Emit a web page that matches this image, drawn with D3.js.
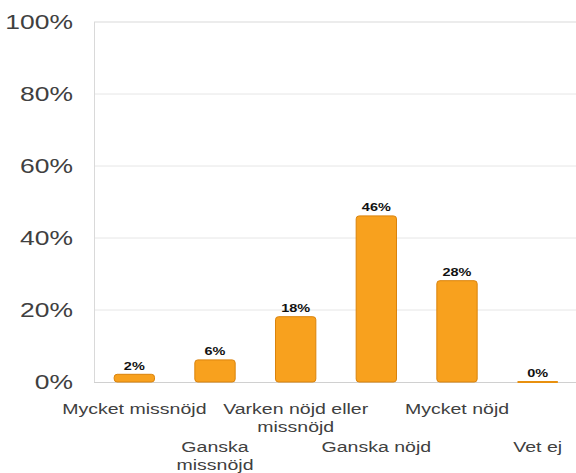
<!DOCTYPE html>
<html>
<head>
<meta charset="utf-8">
<script src="https://cdn.jsdelivr.net/npm/d3@7/dist/d3.min.js"></script>
<style>
  html, body { margin: 0; padding: 0; background: #fff; }
  svg { display: block; font-family: "Liberation Sans", Arial, sans-serif; }
</style>
</head>
<body>
<svg id="chart" width="576" height="473"></svg>
<script>
// Survey answers and their share of respondents (%)
const categories = ["Mycket missnöjd", "Ganska missnöjd", "Varken nöjd eller missnöjd", "Ganska nöjd", "Mycket nöjd", "Vet ej"];
const categoryLines = [["Mycket missnöjd"], ["Ganska", "missnöjd"], ["Varken nöjd eller", "missnöjd"], ["Ganska nöjd"], ["Mycket nöjd"], ["Vet ej"]];
const values = [2, 6, 18, 46, 28, 0];
const yTicks = [0, 20, 40, 60, 80, 100];

const svg = d3.select("#chart");
const margin = { left: 94, top: 22, right: -2, bottom: 91 };
const W = 576, H = 473;
const stretch = 1.26; // text is drawn slightly wide

const x = d3.scaleBand()
  .domain(categories)
  .range([margin.left, W - margin.right])
  .paddingInner(0.5)
  .paddingOuter(0.25);

const y = d3.scaleLinear().domain([0, 100]).range([H - margin.bottom, margin.top]);

// Horizontal gridlines
svg.append("g")
  .selectAll("line")
  .data(yTicks.filter(d => d > 0))
  .join("line")
  .attr("x1", margin.left).attr("x2", W)
  .attr("y1", d => y(d)).attr("y2", d => y(d))
  .attr("stroke", d => d === 100 ? "#d9d9d9" : "#e6e6e6")
  .attr("stroke-width", 1);

// Left frame line
svg.append("line")
  .attr("x1", margin.left + 0.5).attr("x2", margin.left + 0.5)
  .attr("y1", y(100)).attr("y2", y(0))
  .attr("stroke", "#d9d9d9");

// Baseline
svg.append("line")
  .attr("x1", margin.left).attr("x2", W)
  .attr("y1", y(0) + 0.5).attr("y2", y(0) + 0.5)
  .attr("stroke", "#d0d0d0");

// Y axis labels
const yAxis = d3.axisLeft(y).tickValues(yTicks).tickFormat(d => d + "%").tickSize(0).tickPadding(21);
const gy = svg.append("g").attr("transform", `translate(${margin.left},0)`).call(yAxis);
gy.select(".domain").remove();
gy.selectAll("text")
  .attr("font-size", 21)
  .attr("fill", "#404040")
  .attr("font-family", "Liberation Sans, Arial, sans-serif")
  .attr("transform", `translate(-21,0) scale(${stretch},1)`)
  .attr("x", 0);

// Bars
svg.append("g")
  .selectAll("rect")
  .data(values)
  .join("rect")
  .attr("x", (d, i) => x(categories[i]))
  .attr("width", x.bandwidth())
  .attr("y", d => d > 0 ? y(d) - 0.5 : y(0) - 1)
  .attr("height", d => d > 0 ? y(0) - y(d) + 0.5 : 2)
  .attr("rx", d => d > 0 ? 3 : 0)
  .attr("fill", d => d > 0 ? "#F8A11E" : "#E8900F")
  .attr("stroke", d => d > 0 ? "#DA830C" : "none")
  .attr("stroke-width", 1);

// Value labels
svg.append("g")
  .selectAll("text")
  .data(values)
  .join("text")
  .attr("transform", (d, i) => `translate(${x(categories[i]) + x.bandwidth() / 2},${y(d) - 5}) scale(${stretch},1)`)
  .attr("text-anchor", "middle")
  .attr("font-size", 11.5)
  .attr("font-weight", "bold")
  .attr("fill", "#111")
  .text(d => d + "%");

// Category labels, staggered on two rows
const cat = svg.append("g")
  .selectAll("text")
  .data(categories)
  .join("text")
  .attr("transform", (d, i) => `translate(${x(d) + x.bandwidth() / 2},${i % 2 === 0 ? 414 : 452}) scale(${stretch},1)`)
  .attr("text-anchor", "middle")
  .attr("font-size", 15.5)
  .attr("fill", "#404040");
cat.each(function(d, i) {
  const t = d3.select(this);
  categoryLines[i].forEach((line, j) => {
    t.append("tspan")
      .attr("x", 0)
      .attr("dy", j === 0 ? 0 : 18)
      .text(line);
  });
});
</script>
</body>
</html>
